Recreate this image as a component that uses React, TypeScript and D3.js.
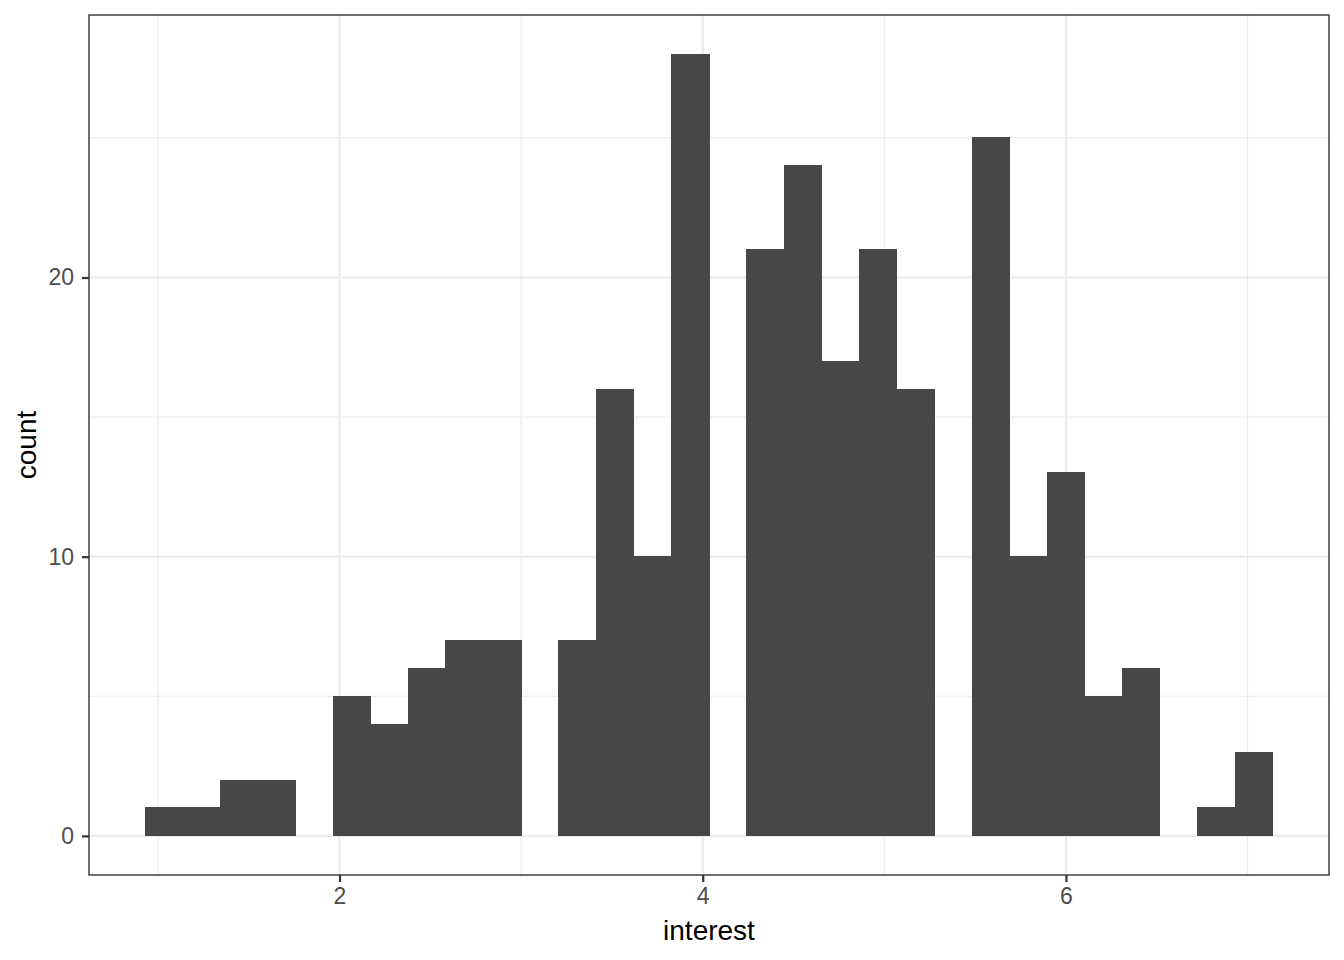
import React, { useRef, useEffect } from "react";
import * as d3 from "d3";

// Histogram counts, 30 bins (ggplot default bins = 30)
const counts: number[] = [
  1, 1, 2, 2, 0, 5, 4, 6, 7, 7,
  0, 7, 16, 10, 28, 0, 21, 24, 17, 21,
  16, 0, 25, 10, 13, 5, 6, 0, 1, 3,
];
// bin layout
const binOrigin = 0.931;
const binWidth = 6 / 29;
const xTicks = [2, 4, 6];
const xMinor = [1, 3, 5, 7];
const yTicks = [0, 10, 20];
const yMinor = [5, 15, 25];
const xLabel = "interest";
const yLabel = "count";

const W = 1344;
const H = 960;

const App: React.FC = () => {
  const ref = useRef<SVGSVGElement | null>(null);

  useEffect(() => {
    if (!ref.current) return;
    const svg = d3.select(ref.current);
    svg.selectAll("*").remove();

    const panel = { left: 89, top: 15, right: 1329, bottom: 875 };

    const bins = counts.map((c, i) => ({
      x0: binOrigin + i * binWidth,
      x1: binOrigin + (i + 1) * binWidth,
      count: c,
    }));

    const xMin = bins[0].x0;
    const xMax = bins[bins.length - 1].x1;
    const xPad = (xMax - xMin) * 0.05;
    const yMax = d3.max(counts)!;
    const yPad = yMax * 0.05;

    const x = d3
      .scaleLinear()
      .domain([xMin - xPad, xMax + xPad])
      .range([panel.left, panel.right]);
    const y = d3
      .scaleLinear()
      .domain([-yPad, yMax + yPad])
      .range([panel.bottom, panel.top]);

    const font = "'Liberation Sans', Arial, Helvetica, sans-serif";

    svg
      .append("rect")
      .attr("x", 0)
      .attr("y", 0)
      .attr("width", W)
      .attr("height", H)
      .attr("fill", "white");

    // Grid lines
    const grid = svg.append("g").attr("class", "grid");
    grid
      .append("g")
      .selectAll("line")
      .data(xMinor)
      .join("line")
      .attr("x1", (d) => x(d))
      .attr("x2", (d) => x(d))
      .attr("y1", panel.top)
      .attr("y2", panel.bottom)
      .attr("stroke", "#EBEBEB")
      .attr("stroke-width", 1.1);
    grid
      .append("g")
      .selectAll("line")
      .data(yMinor)
      .join("line")
      .attr("x1", panel.left)
      .attr("x2", panel.right)
      .attr("y1", (d) => y(d))
      .attr("y2", (d) => y(d))
      .attr("stroke", "#EBEBEB")
      .attr("stroke-width", 1.1);
    grid
      .append("g")
      .selectAll("line")
      .data(xTicks)
      .join("line")
      .attr("x1", (d) => x(d))
      .attr("x2", (d) => x(d))
      .attr("y1", panel.top)
      .attr("y2", panel.bottom)
      .attr("stroke", "#EBEBEB")
      .attr("stroke-width", 2.2);
    grid
      .append("g")
      .selectAll("line")
      .data(yTicks)
      .join("line")
      .attr("x1", panel.left)
      .attr("x2", panel.right)
      .attr("y1", (d) => y(d))
      .attr("y2", (d) => y(d))
      .attr("stroke", "#EBEBEB")
      .attr("stroke-width", 2.2);

    // Bars
    svg
      .append("g")
      .attr("class", "bars")
      .attr("shape-rendering", "crispEdges")
      .selectAll("rect")
      .data(bins.filter((b) => b.count > 0))
      .join("rect")
      .attr("x", (d) => x(d.x0))
      .attr("width", (d) => x(d.x1) - x(d.x0))
      .attr("y", (d) => y(d.count))
      .attr("height", (d) => y(0) - y(d.count))
      .attr("fill", "#474747")
      .attr("stroke", "#474747")
      .attr("stroke-width", 1);

    // Panel border
    svg
      .append("rect")
      .attr("x", panel.left)
      .attr("y", panel.top)
      .attr("width", panel.right - panel.left)
      .attr("height", panel.bottom - panel.top)
      .attr("fill", "none")
      .attr("stroke", "#333333")
      .attr("stroke-width", 1.4);

    // Axes
    const xAxis = svg
      .append("g")
      .attr("transform", `translate(0,${panel.bottom})`)
      .call(d3.axisBottom(x).tickValues(xTicks).tickSize(7).tickPadding(6).tickFormat(d3.format("d")));
    const yAxis = svg
      .append("g")
      .attr("transform", `translate(${panel.left},0)`)
      .call(d3.axisLeft(y).tickValues(yTicks).tickSize(7).tickPadding(8).tickFormat(d3.format("d")));

    [xAxis, yAxis].forEach((a) => {
      a.select(".domain").remove();
      a.selectAll(".tick line").attr("stroke", "#333333").attr("stroke-width", 2.2);
      a.selectAll(".tick text")
        .attr("fill", "#4D4D4D")
        .attr("font-family", font)
        .attr("font-size", 23);
    });

    // Axis titles
    svg
      .append("text")
      .attr("x", (panel.left + panel.right) / 2)
      .attr("y", 940)
      .attr("text-anchor", "middle")
      .style("font-family", font)
      .style("font-size", "28px")
      .attr("fill", "black")
      .text(xLabel);
    svg
      .append("text")
      .attr("transform", `translate(36,${(panel.top + panel.bottom) / 2}) rotate(-90)`)
      .attr("text-anchor", "middle")
      .style("font-family", font)
      .style("font-size", "28px")
      .attr("fill", "black")
      .text(yLabel);
  }, []);

  return (
    <svg
      ref={ref}
      width={W}
      height={H}
      style={{ position: "absolute", left: 0, top: 0 }}
    />
  );
};

export default App;
